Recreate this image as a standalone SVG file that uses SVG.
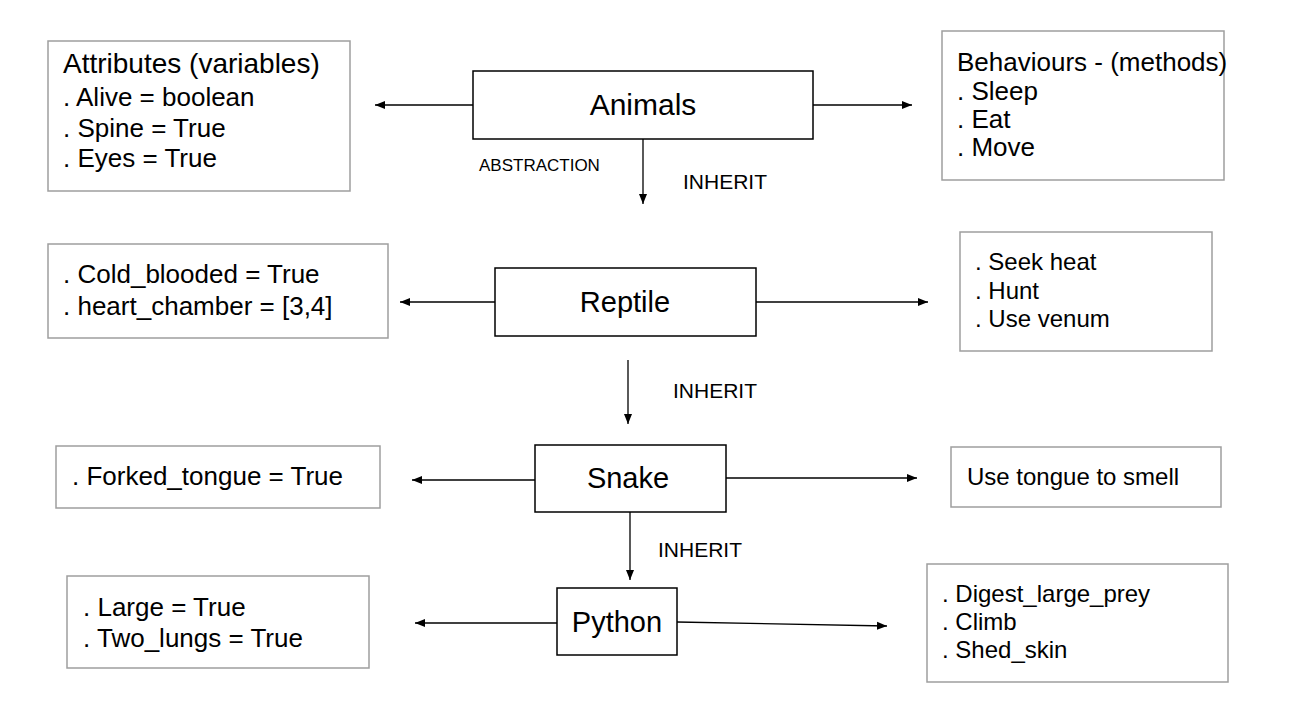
<svg xmlns="http://www.w3.org/2000/svg" width="1312" height="724" viewBox="0 0 1312 724">
<style>
.box{fill:#fff;stroke:#9e9e9e;stroke-width:1.5}
.node{fill:#fff;stroke:#000;stroke-width:1.5}
.t{font-family:"Liberation Sans",Arial,sans-serif;font-size:26px;fill:#000}
.r{font-family:"Liberation Sans",Arial,sans-serif;font-size:24px;fill:#000}
.n{font-family:"Liberation Sans",Arial,sans-serif;font-size:29px;fill:#000;text-anchor:middle}
.l{font-family:"Liberation Sans",Arial,sans-serif;font-size:21px;fill:#000}
.s{font-family:"Liberation Sans",Arial,sans-serif;font-size:17px;fill:#000}
.c{fill:none;stroke:#000;stroke-width:1.3;marker-end:url(#ah)}
</style>
<defs>
<marker id="ah" viewBox="0 0 10 10" refX="10" refY="5" markerWidth="10" markerHeight="10" markerUnits="userSpaceOnUse" orient="auto">
<path d="M0,1 L10,5 L0,9 Z" fill="#000"/>
</marker>
</defs>
<rect width="1312" height="724" fill="#fff"/>
<g id="connectors">
<line class="c" x1="473" y1="105" x2="375" y2="105"/>
<line class="c" x1="813" y1="105" x2="912" y2="105"/>
<line class="c" x1="643" y1="139" x2="643" y2="204"/>
<line class="c" x1="495" y1="302" x2="400" y2="302"/>
<line class="c" x1="756" y1="302" x2="928" y2="302"/>
<line class="c" x1="628" y1="360" x2="628" y2="424"/>
<line class="c" x1="535" y1="480" x2="412" y2="480"/>
<line class="c" x1="726" y1="478" x2="917" y2="478"/>
<line class="c" x1="630" y1="512" x2="630" y2="580"/>
<line class="c" x1="557" y1="623" x2="415" y2="623"/>
<line class="c" x1="677" y1="622" x2="887" y2="626"/>
</g>
<g id="labels">
<text class="s" x="479" y="171">ABSTRACTION</text>
<text class="l" x="683" y="189">INHERIT</text>
<text class="l" x="673" y="398">INHERIT</text>
<text class="l" x="658" y="557">INHERIT</text>
</g>
<g id="attributes">
<rect class="box" x="48" y="41" width="302" height="150"/>
<text class="t" x="63" y="73" style="font-size:28px">Attributes (variables)</text>
<text class="t" x="63" y="106">. Alive = boolean</text>
<text class="t" x="63" y="137">. Spine = True</text>
<text class="t" x="63" y="167">. Eyes = True</text>
</g>
<g id="animals">
<rect class="node" x="473" y="71" width="340" height="68"/>
<text class="n" x="643" y="115" style="font-size:30px">Animals</text>
</g>
<g id="behaviours">
<rect class="box" x="942" y="31" width="282" height="149"/>
<text class="t" x="957" y="71">Behaviours - (methods)</text>
<text class="t" x="957" y="100">. Sleep</text>
<text class="t" x="957" y="128">. Eat</text>
<text class="t" x="957" y="156">. Move</text>
</g>
<g id="reptile-attributes">
<rect class="box" x="48" y="244" width="340" height="94"/>
<text class="t" x="63" y="283">. Cold_blooded = True</text>
<text class="t" x="63" y="315">. heart_chamber = [3,4]</text>
</g>
<g id="reptile">
<rect class="node" x="495" y="268" width="261" height="68"/>
<text class="n" x="625" y="312">Reptile</text>
</g>
<g id="reptile-behaviours">
<rect class="box" x="960" y="232" width="252" height="119"/>
<text class="r" x="975" y="270">. Seek heat</text>
<text class="r" x="975" y="299">. Hunt</text>
<text class="r" x="975" y="327">. Use venum</text>
</g>
<g id="snake-attributes">
<rect class="box" x="56" y="446" width="324" height="62"/>
<text class="t" x="72" y="485">. Forked_tongue = True</text>
</g>
<g id="snake">
<rect class="node" x="535" y="445" width="191" height="67"/>
<text class="n" x="628" y="488">Snake</text>
</g>
<g id="snake-behaviours">
<rect class="box" x="951" y="447" width="270" height="60"/>
<text class="r" x="967" y="485">Use tongue to smell</text>
</g>
<g id="python-attributes">
<rect class="box" x="67" y="576" width="302" height="92"/>
<text class="t" x="83" y="616">. Large = True</text>
<text class="t" x="83" y="647">. Two_lungs = True</text>
</g>
<g id="python">
<rect class="node" x="557" y="588" width="120" height="67"/>
<text class="n" x="617" y="632">Python</text>
</g>
<g id="python-behaviours">
<rect class="box" x="927" y="564" width="301" height="118"/>
<text class="r" x="942" y="602">. Digest_large_prey</text>
<text class="r" x="942" y="630">. Climb</text>
<text class="r" x="942" y="658">. Shed_skin</text>
</g>
</svg>
